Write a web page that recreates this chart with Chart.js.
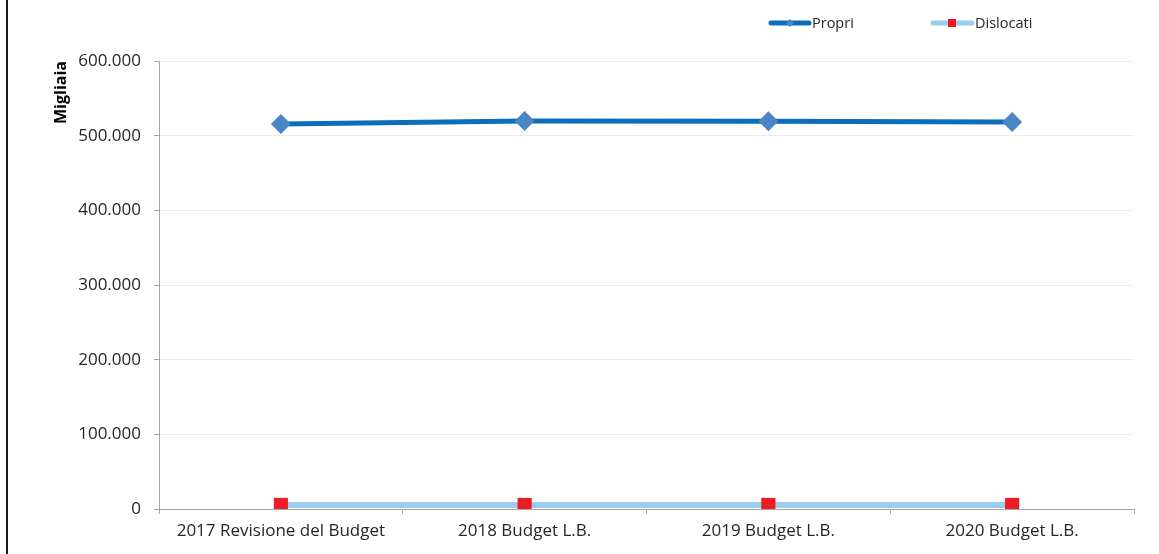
<!DOCTYPE html>
<html>
<head>
<meta charset="utf-8">
<script src="https://cdn.jsdelivr.net/npm/chart.js@4/dist/chart.umd.min.js"></script>
<style>
  html, body { margin: 0; padding: 0; background: #fff; }
  #wrap { position: relative; width: 1159px; height: 554px; }
  #bordo { position: absolute; left: 6px; top: 0; width: 2px; height: 554px; background: #1a1a1a; }
  canvas { position: absolute; left: 0; top: 0; }
</style>
</head>
<body>
<div id="wrap">
  <canvas id="grafico" width="1159" height="554"></canvas>
  <div id="bordo"></div>
</div>
<script>
var categorie = ['2017 Revisione del Budget', '2018 Budget L.B.', '2019 Budget L.B.', '2020 Budget L.B.'];
var propri = [515600, 519600, 519300, 518400];
var dislocati = [5400, 5400, 5400, 5400];
var tickY = [0, 100000, 200000, 300000, 400000, 500000, 600000];

function formatta(v){
    return String(v).replace(/\B(?=(\d{3})+(?!\d))/g, '.');
}

// legenda disegnata a mano: linea con marcatore al centro
var legendaExcel = {
    id: 'legendaExcel',
    afterDraw: function(chart){
        var c = chart.ctx;
        var y = 23;
        c.save();
        c.lineCap = 'round';
        // Propri
        c.strokeStyle = '#0a6ebd'; c.lineWidth = 5;
        c.beginPath(); c.moveTo(771, y); c.lineTo(809, y); c.stroke();
        c.fillStyle = '#4a86c5';
        c.beginPath(); c.moveTo(790, y - 4); c.lineTo(794, y); c.lineTo(790, y + 4); c.lineTo(786, y); c.closePath(); c.fill();
        // Dislocati
        c.strokeStyle = '#9dcbee'; c.lineWidth = 5;
        c.beginPath(); c.moveTo(933, y); c.lineTo(972, y); c.stroke();
        c.fillStyle = '#ed1c24';
        c.fillRect(948, y - 4, 8, 8);
        c.fillStyle = '#262626';
        c.font = '14.5px "Open Sans", "Liberation Sans", sans-serif';
        c.textBaseline = 'middle';
        c.fillText('Propri', 812, y + 1);
        c.fillText('Dislocati', 975, y + 1);
        c.restore();
    }
};

var ctx = document.getElementById('grafico').getContext('2d');
var chart = new Chart(ctx, {
    type: 'line',
    data: {
        labels: categorie,
        datasets: [{
            label: 'Dislocati',
            data: dislocati,
            borderColor: '#9dcbee',
            backgroundColor: '#ed1c24',
            borderWidth: 6,
            pointStyle: 'rect',
            pointRadius: 10,
            pointBorderWidth: 0,
            pointBackgroundColor: '#ed1c24',
            tension: 0
        }, {
            label: 'Propri',
            data: propri,
            borderColor: '#0a6ebd',
            backgroundColor: '#4a86c5',
            borderWidth: 5,
            pointStyle: 'rectRot',
            pointRadius: 10,
            pointBorderWidth: 0,
            pointBackgroundColor: '#4a86c5',
            tension: 0
        }]
    },
    options: {
        responsive: false,
        animation: false,
        layout: { padding: { left: 50, right: 25, top: 61, bottom: 0 } },
        plugins: { legend: { display: false }, tooltip: { enabled: false } },
        scales: {
            x: {
                offset: true,
                grid: { offset: true, drawOnChartArea: false, color: '#a6a6a6', tickLength: 5 },
                border: { color: '#a6a6a6', width: 1 },
                ticks: {
                    color: '#262626', padding: 7, maxRotation: 0,
                    font: { family: '"Open Sans", "Liberation Sans", sans-serif', size: 17 }
                },
                afterFit: function(s){ s.height = 45; }
            },
            y: {
                min: 0, max: 600000,
                afterBuildTicks: function(s){ s.ticks = tickY.map(function(v){ return { value: v }; }); },
                grid: { color: '#ececec', tickColor: '#a6a6a6', tickLength: 5 },
                border: { color: '#a6a6a6', width: 1 },
                ticks: {
                    color: '#262626', padding: 13,
                    font: { family: '"Open Sans", "Liberation Sans", sans-serif', size: 17 }
                    , callback: function(v){ return formatta(v); }
                },
                title: {
                    display: true, text: 'Migliaia', color: '#000', align: 'end',
                    font: { family: '"Open Sans", "Liberation Sans", sans-serif', size: 16, weight: 'bold' },
                    padding: { top: 2, bottom: 0 }
                },
                afterFit: function(s){ s.width = 109; }
            }
        }
    },
    plugins: [legendaExcel]
});
</script>
</body>
</html>
